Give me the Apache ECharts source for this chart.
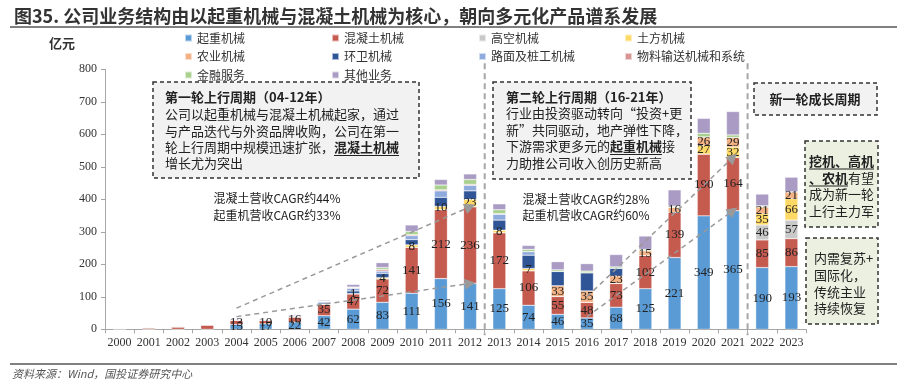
<!DOCTYPE html>
<html><head><meta charset="utf-8">
<script src="https://cdn.jsdelivr.net/npm/echarts@6/dist/echarts.min.js"></script>
<style>html,body{margin:0;padding:0;background:#fff}#c{width:907px;height:380px}</style>
</head><body><div id="c"></div>
<script>
// ---- data ----
const years = ['2000','2001','2002','2003','2004','2005','2006','2007','2008','2009','2010','2011','2012','2013','2014','2015','2016','2017','2018','2019','2020','2021','2022','2023'];
const crane      = [0,0,0,0,15,17,22,42,62,83,111,156,141,125,74,46,35,68,125,221,349,365,190,193];
const concrete   = [3,5,8,14,13,10,16,35,47,72,141,212,236,172,106,55,48,73,102,139,190,164,85,86];
const aerial     = [0,0,0,0,0,0,0,0,0,0,0,0,0,0,0,0,0,0,0,0,0,0,46,57];
const earthmove  = [0,0,0,0,0,0,0,0,1,4,8,10,23,8,7,0,0,0,0,0,27,32,35,66];
const agri       = [0,0,0,0,0,0,0,0,0,0,0,0,0,0,0,33,35,23,15,16,26,29,21,21];
const sanitation = [0,0,0,0,2,2,2,4,8,13,16,28,26,31,41,44,56,24,0,0,0,0,0,0];
const road       = [0,0,0,0,2,2,2,4,8,7,12,20,17,18,11,0,0,0,0,0,0,0,0,0];
const material   = [0,0,0,0,0,0,0,1,2,5,3,3,3,2,0,0,0,0,0,0,0,0,0,0];
const finance    = [0,0,0,0,0,0,0,1,2,6,10,15,15,12,7,5,5,4,4,3,11,8,3,0];
const other      = [0,0,0,0,2,2,3,3,8,15,20,17,17,18,12,25,23,38,41,50,46,72,36,45];
const yTicks = [0,100,200,300,400,500,600,700,800];
// which years carry a value label, per series
const labelYears = {
  '起重机械': years.slice(4),
  '混凝土机械': years.slice(4),
  '高空机械': ['2022','2023'],
  '土方机械': ['2008','2009','2010','2011','2012','2013','2014','2020','2021','2022','2023'],
  '农业机械': ['2015','2016','2017','2018','2019','2020','2021','2022','2023']
};
// trend arrows [startYear, startValue, endYear, endValue]
const trends = [['2004',65,'2012',377],['2004',39,'2012',141],['2016',100,'2021',529],['2016',39,'2021',365]];

const seriesDef = [
  ['起重机械', crane, '#5B9BD5'],
  ['混凝土机械', concrete, '#C55A4F'],
  ['高空机械', aerial, '#C9C9C9'],
  ['土方机械', earthmove, '#FFD966'],
  ['农业机械', agri, '#F4B183'],
  ['环卫机械', sanitation, '#2F5597'],
  ['路面及桩工机械', road, '#8FAADC'],
  ['物料输送机械和系统', material, '#D99594'],
  ['金融服务', finance, '#A9D08E'],
  ['其他业务', other, '#A99BC4']
];

const CJK = '"Noto Sans CJK SC", sans-serif';
const SERIF = '"Liberation Serif", "DejaVu Serif", serif';

const series = seriesDef.map(([name, vals, color], si) => {
  const ly = labelYears[name] || [];
  return {
    name, type: 'bar', stack: 'a', barWidth: 13,
    itemStyle: { color, borderColor: 'rgba(255,255,255,0.6)', borderWidth: 0.5 },
    label: { show: false, position: 'inside', color: '#222', fontFamily: SERIF, fontSize: 13 },
    data: vals.map((v, i) => ({ value: v, label: { show: ly.includes(years[i]) && v > 0 } })),
    markLine: si === 0 ? {
      silent: true, symbol: ['none', 'triangle'], symbolSize: [11, 11],
      lineStyle: { color: '#9A9A9A', type: [5, 4], width: 1.5 },
      label: { show: false },
      data: trends.map(t => [{ coord: [t[0], t[1]] }, { coord: [t[2], t[3]] }])
    } : undefined
  };
});

const legendCols = [
  ['起重机械','农业机械','金融服务'],
  ['混凝土机械','环卫机械','其他业务'],
  ['高空机械','路面及桩工机械'],
  ['土方机械','物料输送机械和系统']
];
const legendLeft = [184, 331, 478, 624];

const chart = echarts.init(document.getElementById('c'));
const option = {
  animation: false,
  backgroundColor: '#fff',
  title: {
    text: '图35. 公司业务结构由以起重机械与混凝土机械为核心，朝向多元化产品谱系发展',
    left: 9, top: 2,
    textStyle: { fontFamily: CJK, fontSize: 18, fontWeight: 'bold', color: '#333' }
  },
  legend: legendCols.map((d, i) => ({
    data: d, orient: 'vertical', left: legendLeft[i], top: 31, padding: 0,
    icon: 'rect', itemWidth: 7, itemHeight: 7, itemGap: 4.5,
    textStyle: { fontFamily: CJK, fontSize: 12, color: '#333', lineHeight: 14 }
  })),
  grid: { left: 105, right: 101, top: 69.3, bottom: 50.7 },
  xAxis: {
    type: 'category', data: years,
    axisLine: { lineStyle: { color: '#A6A6A6' } },
    axisTick: { show: true, length: 4, lineStyle: { color: '#A6A6A6' } },
    axisLabel: { interval: 0, fontFamily: SERIF, fontSize: 12, color: '#333', margin: 8 }
  },
  yAxis: {
    type: 'value', min: yTicks[0], max: yTicks[yTicks.length-1], interval: 100,
    name: '亿元', nameLocation: 'end', nameGap: 20,
    nameTextStyle: { fontFamily: CJK, fontSize: 13, fontWeight: 'bold', color: '#333', align: 'right', padding: [0, 30, 0, 0] },
    splitLine: { show: false },
    axisLine: { show: true, lineStyle: { color: '#A6A6A6' } },
    axisTick: { show: true, length: 4, lineStyle: { color: '#A6A6A6' } },
    axisLabel: { fontFamily: SERIF, fontSize: 12, color: '#333', margin: 8 }
  },
  series
};
chart.setOption(option);

// ---- annotations ----
const px = (cat, v) => chart.convertToPixel({ xAxisIndex: 0, yAxisIndex: 0 }, [cat, v]);
const step = px(years[1], 0)[0] - px(years[0], 0)[0];
const sep1 = px('2012', 0)[0] + step / 2;
const sep2 = px('2021', 0)[0] + step / 2;
const top800 = px(years[0], 800)[1];
const base0 = px(years[0], 0)[1];

function box(x, y, w, h, fill) {
  return { type: 'rect', shape: { x, y, width: w, height: h },
    style: { fill, stroke: '#333', lineWidth: 1.5, lineDash: [4, 3] }, z: 5 };
}
function txt(x, y, text, extra) {
  return { type: 'text', x, y, z: 6, style: Object.assign({ text, fill: '#222', font: '13px ' + CJK, textVerticalAlign: 'middle' }, extra || {}) };
}
function rtxt(x, y, text) {
  return { type: 'text', x, y, z: 6, style: { text, fill: '#222', font: '13px ' + CJK, textVerticalAlign: 'middle',
    rich: { b: { fontWeight: 'bold', fontSize: 13, fontFamily: CJK, fill: '#222' }, n: { fontSize: 13, fontFamily: CJK, fill: '#222' } } } };
}
function uline(x1, x2, y) {
  return { type: 'line', shape: { x1, y1: y, x2, y2: y }, style: { stroke: '#222', lineWidth: 1 }, z: 6 };
}
function vdash(x) {
  return { type: 'line', shape: { x1: x, y1: top800 - 6, x2: x, y2: base0 + 6 },
    style: { stroke: '#A6A6A6', lineWidth: 2, lineDash: [6, 4] }, z: 4 };
}

const g = [
  { type: 'line', shape: { x1: 10, y1: 27, x2: 897, y2: 27 }, style: { stroke: '#808080', lineWidth: 2 } },
  { type: 'line', shape: { x1: 10, y1: 364, x2: 897, y2: 364 }, style: { stroke: '#808080', lineWidth: 2 } },
  txt(12, 374, '资料来源：Wind，国投证券研究中心', { font: 'italic 11px ' + CJK, fill: '#555' }),
  vdash(sep1), vdash(sep2),
  // box 1
  box(153, 82, 266, 96, '#F2F2F2'),
  txt(165, 97, '第一轮上行周期（04-12年）', { font: 'bold 13px ' + CJK }),
  txt(165, 114, '公司以起重机械与混凝土机械起家，通过'),
  txt(165, 131, '与产品迭代与外资品牌收购，公司在第一'),
  rtxt(165, 147, '{n|轮上行周期中规模迅速扩张，}{b|混凝土机械}'),
  uline(334, 399, 155.5),
  txt(165, 163, '增长尤为突出'),
  // box 2
  box(493, 82, 198, 97, '#F2F2F2'),
  txt(506, 97, '第二轮上行周期（16-21年）', { font: 'bold 13px ' + CJK }),
  txt(506, 113, '行业由投资驱动转向“投资+更'),
  txt(506, 130, '新”共同驱动，地产弹性下降，'),
  rtxt(506, 146, '{n|下游需求更多元的}{b|起重机械}{n|接}'),
  uline(610, 662, 154.5),
  txt(506, 163, '力助推公司收入创历史新高'),
  // box 3
  box(754, 83, 123, 32, '#F2F2F2'),
  txt(815, 99, '新一轮成长周期', { font: 'bold 13px ' + CJK, textAlign: 'center' }),
  // box 4
  box(805, 141, 73, 86, '#EBF0E0'),
  rtxt(809, 161, '{b|挖机、高机}'),
  uline(809, 874, 169),
  rtxt(809, 178, '{b|、农机}{n|有望}'),
  uline(809, 848, 186),
  txt(809, 194, '成为新一轮'),
  txt(809, 211, '上行主力军'),
  // box 5
  box(806, 238, 72, 86, '#EBF0E0'),
  txt(814, 258, '内需复苏+'),
  txt(814, 275, '国际化，'),
  txt(814, 292, '传统主业'),
  txt(814, 308, '持续恢复'),
  // CAGR texts
  txt(277, 198, '混凝土营收CAGR约44%', { font: '12px ' + CJK, textAlign: 'center' }),
  txt(277, 215, '起重机营收CAGR约33%', { font: '12px ' + CJK, textAlign: 'center' }),
  txt(586, 199, '混凝土营收CAGR约28%', { font: '12px ' + CJK, textAlign: 'center' }),
  txt(586, 215, '起重机营收CAGR约60%', { font: '12px ' + CJK, textAlign: 'center' })
];
chart.setOption({ graphic: g });
</script>
</body></html>
